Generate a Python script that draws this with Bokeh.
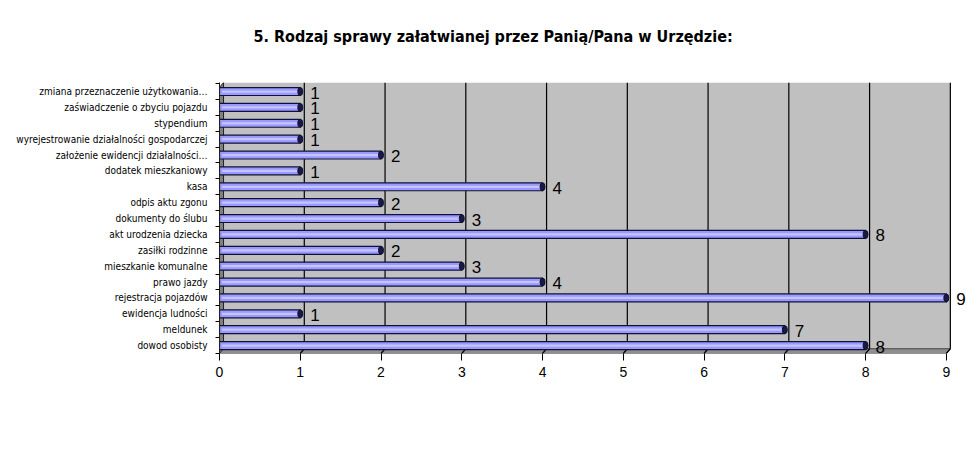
from bokeh.plotting import figure
from bokeh.models import Range1d, FixedTicker, ColumnDataSource, Title
from bokeh.embed import file_html
from bokeh.resources import INLINE
from bokeh.core.properties import value

title_text = "5. Rodzaj sprawy załatwianej przez Panią/Pana w Urzędzie:"

# top to bottom as shown
categories = [
    "zmiana przeznaczenie użytkowania…",
    "zaświadczenie o zbyciu pojazdu",
    "stypendium",
    "wyrejestrowanie działalności gospodarczej",
    "założenie ewidencji działalności…",
    "dodatek mieszkaniowy",
    "kasa",
    "odpis aktu zgonu",
    "dokumenty do ślubu",
    "akt urodzenia dziecka",
    "zasiłki rodzinne",
    "mieszkanie komunalne",
    "prawo jazdy",
    "rejestracja pojazdów",
    "ewidencja ludności",
    "meldunek",
    "dowod osobisty",
]
counts = [1, 1, 1, 1, 2, 1, 4, 2, 3, 8, 2, 3, 4, 9, 1, 7, 8]
x_ticks = [0, 1, 2, 3, 4, 5, 6, 7, 8, 9]

cats_b = categories[::-1]
vals_b = counts[::-1]
ys = list(range(len(cats_b)))
xmax = x_ticks[-1]

src = ColumnDataSource(dict(y=ys, v=vals_b, lab=[str(v) for v in vals_b]))

COND = "DejaVu Sans Condensed"

p = figure(width=968, height=438, output_backend="svg", toolbar_location=None,
           x_range=Range1d(0, 9.25), y_range=Range1d(-0.5, 16.57),
           min_border_left=219, min_border_right=2, min_border_top=82,
           min_border_bottom=85, title=None)

# spacer panel (closest to the frame), then the real title above it
spacer = Title(text=" ", text_font_size="16px", standoff=18, text_color="white")
p.add_layout(spacer, "above")
main_title = Title(text=title_text, align="left", offset=34, text_font=COND,
                   text_font_style="bold", text_font_size="16px",
                   text_color="black", standoff=0)
p.add_layout(main_title, "above")

p.outline_line_color = None
p.background_fill_color = "white"
p.grid.visible = False

dx, dy = 0.05, 0.3
ybot, ytop = -0.5, 16.57
yback = ybot + dy

# back wall
p.quad(left=dx, right=xmax + dx, bottom=yback, top=ytop,
       fill_color="#c0c0c0", line_color=None)
# left side wall
p.patch(x=[0, dx, dx, 0], y=[ybot, yback, ytop, ytop - dy],
        fill_color="#808080", line_color="#202020", line_width=1)
# floor
p.patch(x=[0, xmax, xmax + dx, dx], y=[ybot, ybot, yback, yback],
        fill_color="#8f8f8f", line_color="#404040", line_width=1)
# grid lines on back wall + slanted on floor
gx = [t + dx for t in x_ticks[1:]]
p.segment(x0=gx, y0=[yback] * len(gx), x1=gx, y1=[ytop] * len(gx),
          line_color="black", line_width=1.2)
p.segment(x0=gx, y0=[yback] * len(gx), x1=x_ticks[1:], y1=[ybot] * len(gx),
          line_color="black", line_width=1.2)

# bars
p.hbar(y="y", left=0, right="v", height=0.5, source=src,
       fill_color="#9999ff", line_color="#10103a", line_width=1.2)
p.hbar(y="y", left=0.03, right="v", height=0.14, source=src,
       fill_color="#c4c4ff", line_color=None)
p.ellipse(x="v", y="y", width=5, height=8, width_units="screen",
          height_units="screen", source=src, fill_color="#1a1a40",
          line_color="#10103a")
p.text(x="v", y="y", text="lab", source=src, x_offset=10, y_offset=1,
       text_baseline="middle", text_align="left", text_font=value("Liberation Sans"),
       text_font_size="17px", text_color="black")

# axes
p.xaxis.ticker = FixedTicker(ticks=x_ticks)
p.xaxis.axis_line_color = None
p.xaxis.major_tick_out = 7
p.xaxis.major_tick_in = 0
p.xaxis.major_tick_line_color = "black"
p.xaxis.minor_tick_line_color = None
p.xaxis.major_label_text_font = "Liberation Sans"
p.xaxis.major_label_text_font_size = "14px"
p.xaxis.major_label_text_color = "black"
p.xaxis.major_label_standoff = 6

p.yaxis.ticker = FixedTicker(ticks=ys, minor_ticks=[y - 0.5 for y in ys] + [16.5])
p.yaxis.major_label_overrides = {y: c for y, c in zip(ys, cats_b)}
p.yaxis.axis_line_color = "#202020"
p.yaxis.major_tick_line_color = None
p.yaxis.minor_tick_out = 4
p.yaxis.minor_tick_in = 0
p.yaxis.minor_tick_line_color = "black"
p.yaxis.major_label_text_font = COND
p.yaxis.major_label_text_font_size = "10px"
p.yaxis.major_label_text_color = "black"
p.yaxis.major_label_standoff = 6

open("out.html", "w").write(file_html(p, INLINE))
